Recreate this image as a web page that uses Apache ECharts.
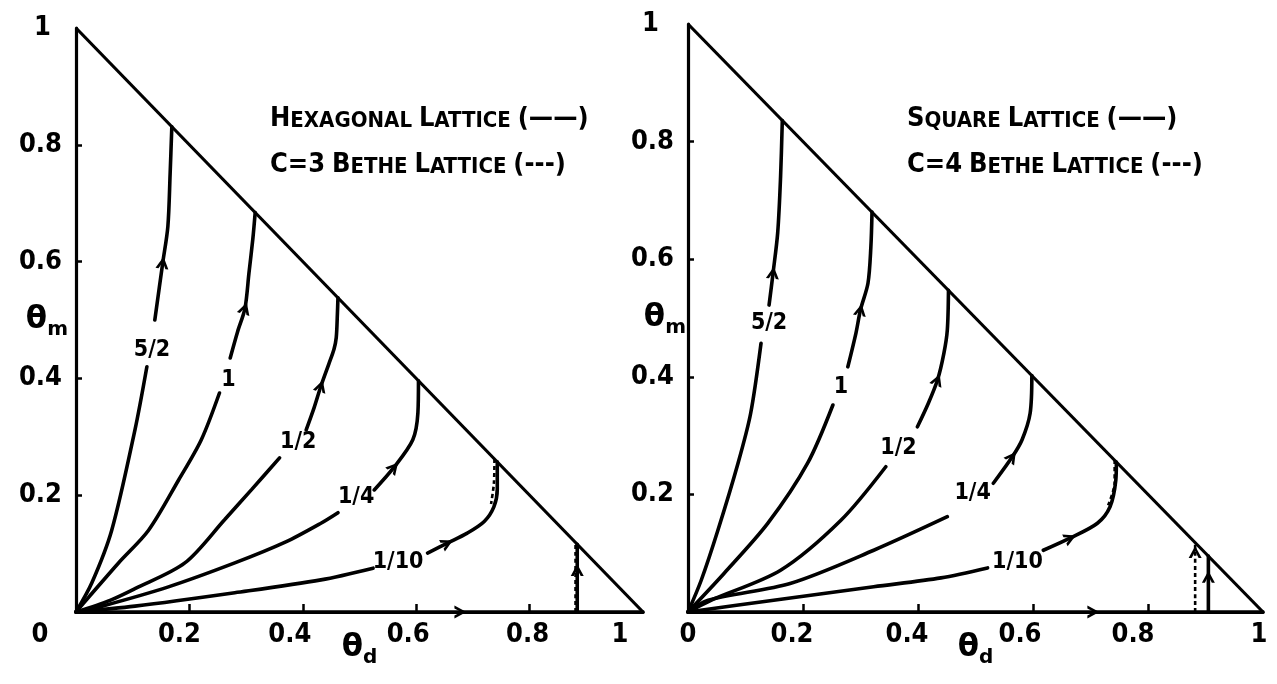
<!DOCTYPE html>
<html>
<head>
<meta charset="utf-8">
<script src="https://cdn.jsdelivr.net/npm/echarts@6/dist/echarts.min.js"></script>
<style>
  html, body { margin: 0; padding: 0; background: #fff; }
  #chart { width: 1277px; height: 684px; }
</style>
</head>
<body>
<div id="chart"></div>
<script>
// ---- axis ticks and labels (both panels) ----
const tickValues = [0, 0.2, 0.4, 0.6, 0.8, 1];
const xTickText = ['0', '0.2', '0.4', '0.6', '0.8', '1'];
const yTickText = ['', '0.2', '0.4', '0.6', '0.8', '1'];
const flowNames = ['5/2', '1', '1/2', '1/4', '1/10'];

// ---- hexagonal lattice flows (solid); null splits a curve around its label ----
const hex52 = [[0, 0], [0.028, 0.05], [0.063, 0.14], [0.104, 0.312], [0.125, 0.42], null,
  [0.139, 0.5], [0.153, 0.598], [0.162, 0.66], [0.166, 0.75], [0.169, 0.831]];
const hex1 = [[0, 0], [0.023, 0.026], [0.075, 0.084], [0.128, 0.14], [0.181, 0.226], [0.221, 0.295], [0.253, 0.375], null,
  [0.272, 0.435], [0.285, 0.48], [0.298, 0.52], [0.305, 0.58], [0.312, 0.64], [0.316, 0.684]];
const hex12 = [[0, 0], [0.06, 0.02], [0.104, 0.04], [0.192, 0.084], [0.262, 0.158], [0.31, 0.21], [0.359, 0.264], null,
  [0.406, 0.312], [0.42, 0.35], [0.432, 0.387], [0.446, 0.425], [0.455, 0.45], [0.459, 0.47], [0.461, 0.51], [0.462, 0.538]];
const hex14 = [[0, 0], [0.046, 0.01], [0.163, 0.043], [0.28, 0.084], [0.37, 0.12], [0.432, 0.152], [0.462, 0.17], null,
  [0.526, 0.209], [0.561, 0.248], [0.594, 0.295], [0.603, 0.341], [0.604, 0.396]];
const hex110 = [[0, 0], [0.104, 0.01], [0.28, 0.033], [0.432, 0.055], [0.524, 0.075], null,
  [0.62, 0.101], [0.655, 0.118], [0.69, 0.135], [0.72, 0.155], [0.737, 0.18], [0.743, 0.21], [0.743, 0.257]];
const hexAxisFlow = [[0, 0], [1, 0]];
const hexVertical = [[0.884, 0], [0.884, 0.116]];
// C=3 Bethe lattice (dashed) where it separates from the hexagonal curves
const bethe3Flow110 = [[0.738, 0.262], [0.737, 0.22], [0.732, 0.185]];
const bethe3Vertical = [[0.881, 0], [0.881, 0.119]];
const hexArrows = [[0.153, 0.598], [0.298, 0.52], [0.432, 0.387], [0.561, 0.248], [0.655, 0.118], [0.678, 0], [0.884, 0.072]];
const hexLabelAt = [[0.134, 0.449], [0.269, 0.397], [0.392, 0.291], [0.494, 0.197], [0.568, 0.086]];

// ---- square lattice flows (solid) ----
const sq52 = [[0, 0], [0.023, 0.054], [0.052, 0.139], [0.087, 0.253], [0.109, 0.338], [0.127, 0.457], null,
  [0.141, 0.522], [0.148, 0.577], [0.156, 0.645], [0.161, 0.74], [0.164, 0.836]];
const sq1 = [[0, 0], [0.063, 0.066], [0.139, 0.151], [0.208, 0.253], [0.252, 0.352], null,
  [0.278, 0.417], [0.292, 0.474], [0.3, 0.514], [0.313, 0.559], [0.318, 0.62], [0.32, 0.68]];
const sq12 = [[0, 0], [0.04, 0.02], [0.161, 0.071], [0.266, 0.156], [0.344, 0.247], null,
  [0.399, 0.315], [0.418, 0.355], [0.434, 0.395], [0.445, 0.44], [0.451, 0.48], [0.453, 0.547]];
const sq14 = [[0, 0], [0.035, 0.02], [0.179, 0.049], [0.323, 0.105], [0.451, 0.162], null,
  [0.531, 0.219], [0.564, 0.264], [0.581, 0.293], [0.595, 0.338], [0.598, 0.402]];
const sq110 = [[0, 0], [0.149, 0.02], [0.323, 0.043], [0.44, 0.058], [0.521, 0.075], null,
  [0.618, 0.105], [0.665, 0.126], [0.712, 0.151], [0.734, 0.179], [0.744, 0.224], [0.745, 0.255]];
const sqAxisFlow = [[0, 0], [1, 0]];
const sqVertical = [[0.905, 0], [0.905, 0.095]];
// C=4 Bethe lattice (dashed)
const bethe4Flow110 = [[0.742, 0.258], [0.742, 0.22], [0.73, 0.18]];
const bethe4Vertical = [[0.882, 0], [0.882, 0.118]];
const sqArrows = [[0.148, 0.577], [0.3, 0.514], [0.434, 0.395], [0.564, 0.264], [0.665, 0.126], [0.705, 0], [0.905, 0.06]];
const bethe4Arrows = [[0.882, 0.102]];
const sqLabelAt = [[0.141, 0.491], [0.266, 0.383], [0.366, 0.279], [0.495, 0.202], [0.573, 0.085]];

const boundary = [[0, 1], [1, 0]];

// ---- styling ----
const INK = '#000';
const FONT = 'DejaVu Sans Condensed';
const tickFont = { fontFamily: FONT, fontWeight: 'bold', fontSize: 27, color: INK };
const chevron = 'path://M0,11 L6,0 L12,11 L9.2,11 L6,4.8 L2.8,11 Z';

const panels = [
  {
    grid: { left: 76, top: 28, width: 567, height: 584 },
    xShift: [-36, -10, -13, -8, -2, -23],
    yPad: [0, 0, 0, 0, 0, 11],
    yNameGap: 8,
    solid: [hex52, hex1, hex12, hex14, hex110, hexAxisFlow, hexVertical],
    dashed: [bethe3Flow110, bethe3Vertical],
    arrows: hexArrows, dashedArrows: [],
    labelAt: hexLabelAt,
    legend: [
      '{c|H}{s|EXAGONAL} {c|L}{s|ATTICE} {c|(——)}',
      '{c|C=3} {c|B}{s|ETHE} {c|L}{s|ATTICE} {c|(---)}'
    ],
    legendLeft: 270
  },
  {
    grid: { left: 688, top: 24, width: 575, height: 588 },
    xShift: [0, -11, -11, -13, -15, -4],
    yPad: [0, 0, 0, 0, 0, 15],
    yNameGap: 2,
    solid: [sq52, sq1, sq12, sq14, sq110, sqAxisFlow, sqVertical],
    dashed: [bethe4Flow110, bethe4Vertical],
    arrows: sqArrows, dashedArrows: bethe4Arrows,
    labelAt: sqLabelAt,
    legend: [
      '{c|S}{s|QUARE} {c|L}{s|ATTICE} {c|(——)}',
      '{c|C=4} {c|B}{s|ETHE} {c|L}{s|ATTICE} {c|(---)}'
    ],
    legendLeft: 907
  }
];

function tickIndex(v) {
  for (let i = 0; i < tickValues.length; i++) if (Math.abs(v - tickValues[i]) < 1e-6) return i;
  return -1;
}

const nameRich = {
  t: { fontFamily: 'DejaVu Sans', fontWeight: 'bold', fontSize: 31, color: INK, lineHeight: 40, verticalAlign: 'middle' },
  s: { fontFamily: 'DejaVu Sans', fontWeight: 'bold', fontSize: 20, color: INK, lineHeight: 40, verticalAlign: 'bottom' }
};

const grids = [], xAxes = [], yAxes = [], series = [], titles = [];

panels.forEach((p, g) => {
  grids.push(Object.assign({ containLabel: false, outerBoundsMode: 'none' }, p.grid));

  const xRich = {};
  p.xShift.forEach((dx, i) => {
    xRich['p' + i] = Object.assign({}, tickFont, { padding: dx < 0 ? [0, -2 * dx, 0, 0] : [0, 0, 0, 2 * dx] });
  });
  const yRich = {};
  p.yPad.forEach((pad, i) => { yRich['q' + i] = Object.assign({}, tickFont, { padding: [0, pad, 0, 0] }); });

  xAxes.push({
    gridIndex: g, type: 'value', min: 0, max: 1, interval: 0.2,
    axisLine: { show: true, onZero: false, lineStyle: { color: INK, width: 3.2 } },
    axisTick: { show: true, inside: true, length: 8, customValues: [0.2, 0.4, 0.6, 0.8], lineStyle: { color: INK, width: 2.5 } },
    splitLine: { show: false },
    axisLabel: {
      show: true, margin: 9, showMinLabel: true, showMaxLabel: true,
      formatter: v => { const i = tickIndex(v); return i < 0 ? '' : '{p' + i + '|' + xTickText[i] + '}'; },
      rich: xRich
    },
    name: '{t|θ}{s|d}', nameLocation: 'middle', nameGap: 16, nameMoveOverlap: false,
    nameTextStyle: { rich: nameRich }
  });
  yAxes.push({
    gridIndex: g, type: 'value', min: 0, max: 1, interval: 0.2,
    axisLine: { show: true, onZero: false, lineStyle: { color: INK, width: 3.2 } },
    axisTick: { show: true, inside: true, length: 6, customValues: [0.2, 0.4, 0.6, 0.8], lineStyle: { color: INK, width: 2.5 } },
    splitLine: { show: false },
    axisLabel: {
      show: true, margin: 14, showMinLabel: true, showMaxLabel: true,
      formatter: v => { const i = tickIndex(v); return i < 1 ? '' : '{q' + i + '|' + yTickText[i] + '}'; },
      rich: yRich
    },
    name: '{t|θ}{s|m}', nameLocation: 'middle', nameRotate: 0, nameGap: p.yNameGap, nameMoveOverlap: false,
    nameTextStyle: { align: 'right', rich: nameRich }
  });

  // triangle hypotenuse θd + θm = 1
  series.push({
    type: 'line', xAxisIndex: g, yAxisIndex: g, data: boundary, symbol: 'none',
    lineStyle: { color: INK, width: 3.2 }, silent: true
  });
  p.solid.forEach(c => series.push({
    type: 'line', xAxisIndex: g, yAxisIndex: g, data: c, symbol: 'none', smooth: 0.3,
    connectNulls: false, lineStyle: { color: INK, width: 3.6, cap: 'round' }, silent: true
  }));
  p.dashed.forEach(c => series.push({
    type: 'line', xAxisIndex: g, yAxisIndex: g, data: c, symbol: 'none', smooth: 0.3,
    lineStyle: { color: INK, width: 2.6, type: [4, 3] }, silent: true
  }));
  series.push({
    id: 'arrows' + g, type: 'scatter', xAxisIndex: g, yAxisIndex: g,
    data: p.arrows.concat(p.dashedArrows).map(v => ({ value: v })),
    symbol: chevron, symbolSize: [13, 12], itemStyle: { color: INK, opacity: 1 }, silent: true, z: 5
  });
  series.push({
    type: 'scatter', xAxisIndex: g, yAxisIndex: g, symbolSize: 0, silent: true,
    itemStyle: { opacity: 1 },
    data: p.labelAt.map((v, i) => ({ value: v, name: flowNames[i] })),
    label: {
      show: true, position: 'inside', formatter: '{b}',
      fontFamily: FONT, fontWeight: 'bold', fontSize: 23, color: INK
    }
  });

  const legendRich = {
    c: { fontFamily: FONT, fontWeight: 'bold', fontSize: 27, color: INK, verticalAlign: 'bottom' },
    s: { fontFamily: FONT, fontWeight: 'bold', fontSize: 22, color: INK, verticalAlign: 'bottom' }
  };
  p.legend.forEach((txt, k) => titles.push({
    text: txt, left: p.legendLeft, top: 105 + k * 46, padding: 0,
    textStyle: { fontFamily: FONT, fontWeight: 'bold', fontSize: 22, color: INK, rich: legendRich }
  }));
});

const chart = echarts.init(document.getElementById('chart'), null, { renderer: 'canvas' });
chart.setOption({
  backgroundColor: '#fff',
  animation: false,
  title: titles,
  grid: grids,
  xAxis: xAxes,
  yAxis: yAxes,
  series: series
});

// point each chevron along the flow direction of the curve it sits on
function flowRotation(g, pt, curves) {
  const finder = { gridIndex: g };
  const p = chart.convertToPixel(finder, pt);
  let best = null, bestD = Infinity;
  curves.forEach(c => {
    for (let i = 0; i < c.length - 1; i++) {
      if (!c[i] || !c[i + 1]) continue;
      const a = chart.convertToPixel(finder, c[i]);
      const b = chart.convertToPixel(finder, c[i + 1]);
      const dx = b[0] - a[0], dy = b[1] - a[1];
      const len2 = dx * dx + dy * dy || 1;
      let t = ((p[0] - a[0]) * dx + (p[1] - a[1]) * dy) / len2;
      t = Math.max(0, Math.min(1, t));
      const qx = a[0] + t * dx - p[0], qy = a[1] + t * dy - p[1];
      const d = qx * qx + qy * qy;
      if (d < bestD) { bestD = d; best = [dx, dy]; }
    }
  });
  return Math.atan2(-best[0], -best[1]) * 180 / Math.PI;
}

chart.setOption({
  series: panels.map((p, g) => ({
    id: 'arrows' + g,
    data: p.arrows.map(v => ({ value: v, symbolRotate: flowRotation(g, v, p.solid) }))
      .concat(p.dashedArrows.map(v => ({ value: v, symbolRotate: flowRotation(g, v, p.dashed) })))
  }))
});
</script>
</body>
</html>
